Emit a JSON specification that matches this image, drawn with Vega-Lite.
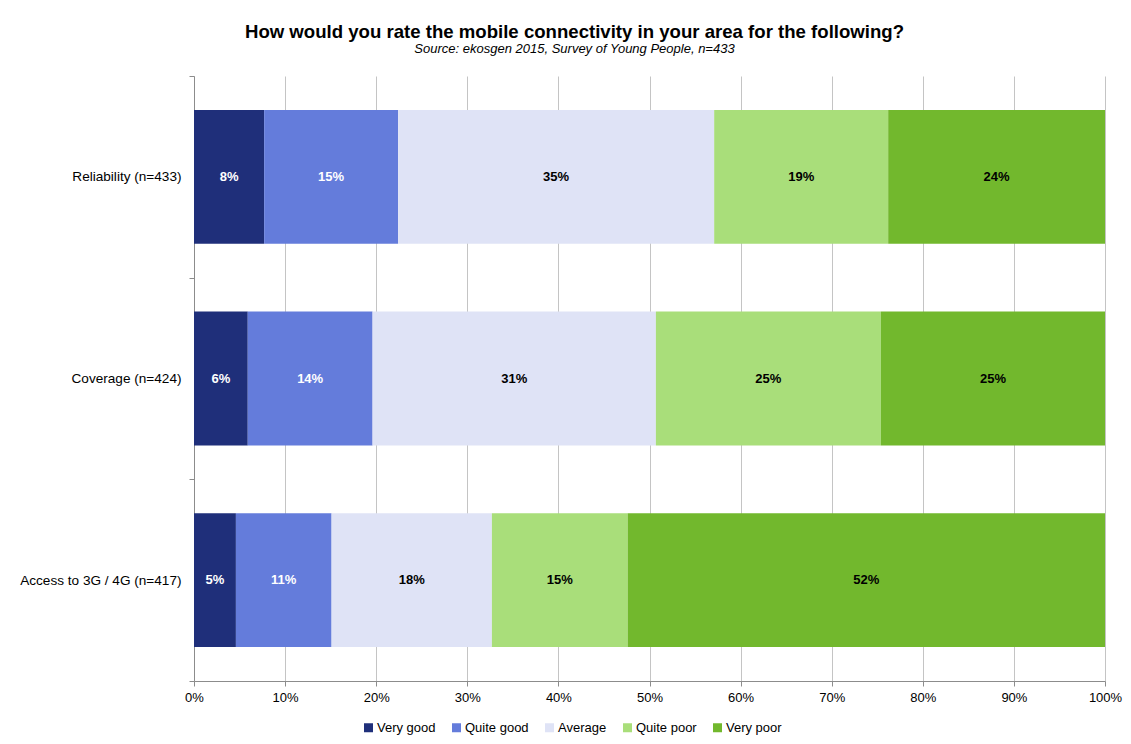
{
  "$schema": "https://vega.github.io/schema/vega-lite/v6.json",
  "width": 911,
  "height": 605,
  "autosize": {"type": "none"},
  "padding": {"left": 194, "top": 76, "right": 26, "bottom": 63},
  "background": "white",
  "config": {
    "view": {"stroke": null},
    "font": "Liberation Sans",
    "axis": {"labelFont": "Liberation Sans", "labelColor": "black", "labelFontSize": 13}
  },
  "title": {
    "text": "How would you rate the mobile connectivity in your area for the following?",
    "subtitle": "Source: ekosgen 2015, Survey of Young People, n=433",
    "anchor": "middle",
    "frame": "group",
    "dx": -75,
    "offset": 13,
    "font": "Liberation Sans",
    "fontSize": 18.6,
    "fontWeight": "bold",
    "color": "black",
    "subtitleFont": "Liberation Sans",
    "subtitleFontSize": 13,
    "subtitleFontStyle": "italic",
    "subtitleColor": "black",
    "subtitlePadding": 1
  },
  "data": {
    "values": [
      {"item": "Reliability (n=433)", "rating": "Very good", "order": 1, "value": 7.7, "label": "8%"},
      {"item": "Reliability (n=433)", "rating": "Quite good", "order": 2, "value": 14.7, "label": "15%"},
      {"item": "Reliability (n=433)", "rating": "Average", "order": 3, "value": 34.7, "label": "35%"},
      {"item": "Reliability (n=433)", "rating": "Quite poor", "order": 4, "value": 19.1, "label": "19%"},
      {"item": "Reliability (n=433)", "rating": "Very poor", "order": 5, "value": 23.8, "label": "24%"},
      {"item": "Coverage (n=424)", "rating": "Very good", "order": 1, "value": 5.9, "label": "6%"},
      {"item": "Coverage (n=424)", "rating": "Quite good", "order": 2, "value": 13.7, "label": "14%"},
      {"item": "Coverage (n=424)", "rating": "Average", "order": 3, "value": 31.1, "label": "31%"},
      {"item": "Coverage (n=424)", "rating": "Quite poor", "order": 4, "value": 24.7, "label": "25%"},
      {"item": "Coverage (n=424)", "rating": "Very poor", "order": 5, "value": 24.6, "label": "25%"},
      {"item": "Access to 3G / 4G (n=417)", "rating": "Very good", "order": 1, "value": 4.6, "label": "5%"},
      {"item": "Access to 3G / 4G (n=417)", "rating": "Quite good", "order": 2, "value": 10.5, "label": "11%"},
      {"item": "Access to 3G / 4G (n=417)", "rating": "Average", "order": 3, "value": 17.6, "label": "18%"},
      {"item": "Access to 3G / 4G (n=417)", "rating": "Quite poor", "order": 4, "value": 14.9, "label": "15%"},
      {"item": "Access to 3G / 4G (n=417)", "rating": "Very poor", "order": 5, "value": 52.4, "label": "52%"}
    ]
  },
  "transform": [
    {"stack": "value", "groupby": ["item"], "sort": [{"field": "order", "order": "ascending"}], "as": ["x0", "x1"]},
    {"calculate": "(datum.x0 + datum.x1) / 2", "as": "mid"}
  ],
  "encoding": {
    "y": {
      "field": "item",
      "type": "nominal",
      "sort": ["Reliability (n=433)", "Coverage (n=424)", "Access to 3G / 4G (n=417)"],
      "scale": {"paddingInner": 0, "paddingOuter": 0},
      "axis": {
        "title": null,
        "tickBand": "extent",
        "domainColor": "#8c8c8c",
        "tickColor": "#8c8c8c",
        "tickSize": 5,
        "labelPadding": 8,
        "labelFontSize": 13.6
      }
    }
  },
  "layer": [
    {
      "mark": {"type": "bar", "height": {"band": 0.664}},
      "encoding": {
        "x": {
          "field": "x0",
          "type": "quantitative",
          "scale": {"domain": [0, 100], "nice": false},
          "axis": {
            "title": null,
            "values": [0, 10, 20, 30, 40, 50, 60, 70, 80, 90, 100],
            "labelExpr": "datum.value + '%'",
            "labelFlush": false,
            "grid": true,
            "gridColor": "#c4c4c4",
            "domainColor": "#8c8c8c",
            "tickColor": "#8c8c8c",
            "tickSize": 5,
            "labelPadding": 5,
            "labelFontSize": 13
          }
        },
        "x2": {"field": "x1"},
        "color": {
          "field": "rating",
          "type": "nominal",
          "scale": {
            "domain": ["Very good", "Quite good", "Average", "Quite poor", "Very poor"],
            "range": ["#1f2f7a", "#647cdb", "#dfe3f6", "#a9de7a", "#72b82d"]
          },
          "legend": {
            "title": null,
            "orient": "none",
            "legendX": 168,
            "legendY": 645,
            "direction": "horizontal",
            "symbolType": "square",
            "symbolSize": 81,
            "symbolStrokeWidth": 0,
            "labelFont": "Liberation Sans",
            "labelFontSize": 13,
            "labelColor": "black",
            "labelOffset": 2,
            "columnPadding": 14
          }
        }
      }
    },
    {
      "mark": {"type": "text", "font": "Liberation Sans", "fontSize": 13, "fontWeight": "bold"},
      "encoding": {
        "x": {"field": "mid", "type": "quantitative"},
        "text": {"field": "label", "type": "nominal"},
        "color": {
          "condition": {"test": "datum.rating == 'Very good' || datum.rating == 'Quite good'", "value": "white"},
          "value": "black"
        }
      }
    }
  ]
}
